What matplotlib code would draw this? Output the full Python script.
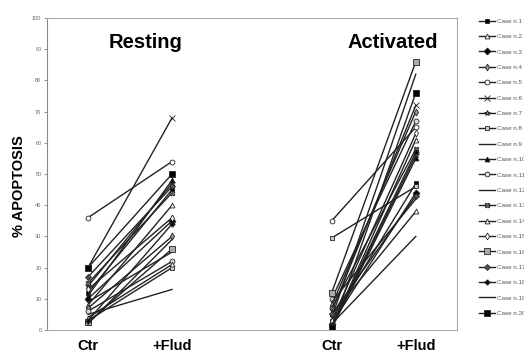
import numpy as np
import matplotlib
matplotlib.use("Agg")
import matplotlib.pyplot as plt

plt.rcParams['font.family'] = ['Liberation Sans', 'DejaVu Sans']

cases = ["Case n.%d" % i for i in range(1, 21)]

# % apoptosis, one value per case
rest_ctr = [12, 8, 10, 7, 36, 20, 14, 3, 5, 11, 6, 9, 15, 4, 13, 2.5, 17, 3, 2, 20]
rest_flud = [45, 40, 35, 30, 54, 68, 47, 20, 13, 48, 22, 25, 44, 21, 36, 26, 46, 34, 29, 50]
act_ctr = [3, 5, 2, 8, 35, 6, 1, 29.5, 4, 0.5, 10, 2, 7, 1, 3, 12, 5, 1.5, 9, 0.5]
act_flud = [47, 38, 44, 70, 65, 72, 56, 46, 82, 55, 67, 30, 58, 61, 63, 86, 43, 57, 42, 76]

group_labels = ["Ctr", "+Flud", "Ctr", "+Flud"]

# marker, face colour, size
styles = [
    ('s', 'k', 3), ('^', 'w', 3.5), ('D', 'k', 3.5), ('d', '#999999', 3.5),
    ('o', 'w', 3.5), ('x', 'k', 4), ('*', '#888888', 4), ('s', '#cccccc', 3.5),
    ('', 'k', 0), ('^', 'k', 3.5), ('o', '#dddddd', 3.5), ('', 'k', 0),
    ('X', '#777777', 3.5), ('^', '#eeeeee', 3.5), ('d', 'w', 3.5), ('s', '#aaaaaa', 4.5),
    ('D', '#555555', 3), ('P', 'k', 3.5), ('', 'k', 0), ('s', 'k', 4),
]

xpos = [1, 2, np.nan, 3.9, 4.9]

fig = plt.figure(figsize=(5.24, 3.54), dpi=100)
ax = fig.add_axes([47 / 524, 24 / 354, 410 / 524, 312 / 354])

for i in range(20):
    m, fc, ms = styles[i]
    y = [rest_ctr[i], rest_flud[i], np.nan, act_ctr[i], act_flud[i]]
    ax.plot(xpos, y, color='#222222', lw=1.0, marker=m if m else None,
            markersize=ms, markerfacecolor=fc, markeredgecolor='#222222',
            markeredgewidth=0.6, label=cases[i])

ax.set_xlim(0.512, 5.39)
ax.set_ylim(0, 100)
ax.set_yticks(range(0, 101, 10))
ax.tick_params(axis='y', labelsize=4, colors='#666666', length=2, width=0.5, pad=2)
ax.set_xticks([1, 2, 3.9, 4.9])
ax.set_xticklabels(group_labels, fontsize=10.5, fontweight='bold')
ax.tick_params(axis='x', length=0, pad=6.5)
for s in ax.spines.values():
    s.set_color('#aaaaaa')
    s.set_linewidth(0.8)
ax.spines['left'].set_color('#888888')

ax.set_ylabel("% APOPTOSIS", fontsize=10.5, fontweight='bold')
ax.yaxis.set_label_coords(-0.05, 0.46)

ax.text(1.68, 92, "Resting", fontsize=14.5, fontweight='bold', ha='center', va='center')
ax.text(4.62, 92, "Activated", fontsize=14.5, fontweight='bold', ha='center', va='center')

fig.legend(loc='upper left', bbox_to_anchor=(476 / 524, 1 - 16 / 354), frameon=False,
           fontsize=4.5, labelspacing=1.6, handlelength=2.6, handletextpad=0.3,
           borderaxespad=0, labelcolor='#555555')

fig.savefig("out.png", dpi=100)
